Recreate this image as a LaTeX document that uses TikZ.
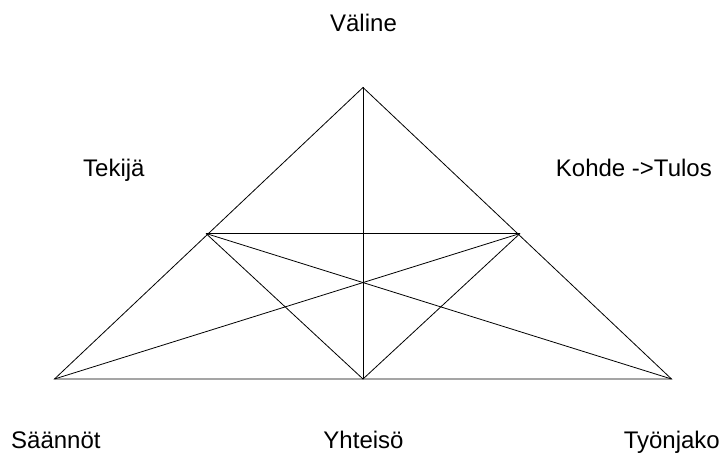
\documentclass[tikz,border=0pt]{standalone}
\usepackage{fontspec}
\setmainfont{Liberation Sans}
\begin{document}
\begin{tikzpicture}[x=1bp,y=-1bp,
  edge/.style={draw=black,line width=0.8bp},
  lbl/.style={inner sep=0pt,font=\fontsize{24bp}{28bp}\selectfont}]
\useasboundingbox (0,0) rectangle (723,454);
\coordinate (A) at (363,87.5);
\coordinate (BL) at (54.5,379);
\coordinate (BR) at (671.5,379);
\coordinate (BM) at (363,379);
\coordinate (LM) at (206,233.5);
\coordinate (RM) at (520,233.5);
\draw[edge] (BL) -- (A) -- (BR) -- cycle;
\draw[edge] (A) -- (BM);
\draw[edge] (LM) -- (RM);
\draw[edge] (LM) -- (BM) -- (RM);
\draw[edge] (BL) -- (RM);
\draw[edge] (BR) -- (LM);
\node[lbl,anchor=base] (valine) at (363.5,32) {Väline};
\node[lbl,anchor=base west] (tekija) at (83,177) {Tekijä};
\node[lbl,anchor=base east] (kohde) at (712,177) {Kohde ->Tulos};
\node[lbl,anchor=base west] (saannot) at (11,448) {Säännöt};
\node[lbl,anchor=base] (yhteiso) at (363.5,448) {Yhteisö};
\node[lbl,anchor=base east] (tyonjako) at (720,448) {Työnjako};
\end{tikzpicture}
\end{document}
